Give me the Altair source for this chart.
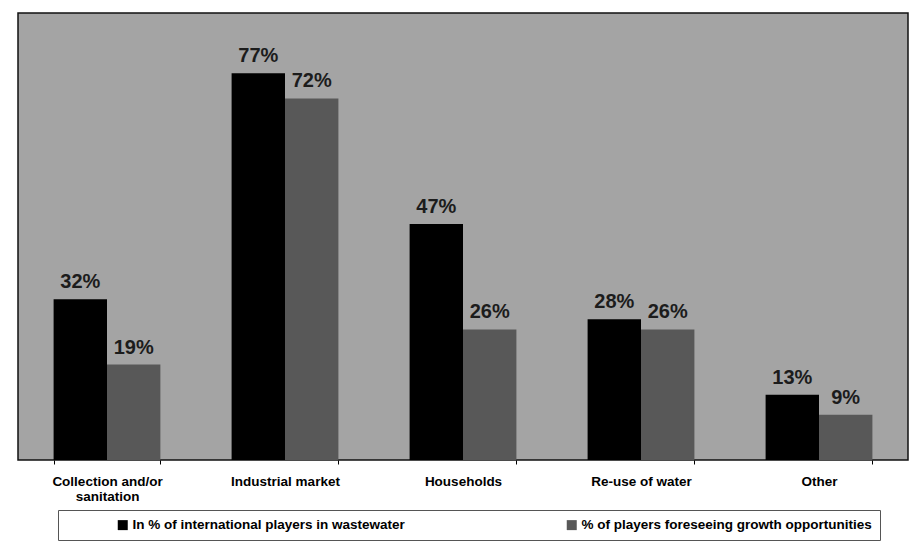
import altair as alt
import pandas as pd

# Segments served, two survey measures per segment
categories = ["Collection and/or|sanitation", "Industrial market", "Households",
              "Re-use of water", "Other"]
series = ["In % of international players in wastewater",
          "% of players foreseeing growth opportunities"]
active_share = [32, 77, 47, 28, 13]
growth_share = [19, 72, 26, 26, 9]

rows = []
for cat, a, g in zip(categories, active_share, growth_share):
    rows.append({"category": cat, "series": series[0], "value": a})
    rows.append({"category": cat, "series": series[1], "value": g})
df = pd.DataFrame(rows)
df["label"] = df["value"].astype(str) + "%"

FONT = "Liberation Sans"

x_enc = alt.X(
    "category:N",
    sort=categories,
    scale=alt.Scale(paddingInner=0.4, paddingOuter=0.2),
    axis=alt.Axis(
        title=None,
        labelAngle=0,
        labelExpr="split(datum.label, '|')",
        labelFont=FONT,
        labelFontSize=13.5,
        labelFontWeight="bold",
        labelColor="#000000",
        labelLineHeight=15,
        labelPadding=10,
        labelBaseline="top",
        domain=False,
        ticks=True,
        tickBand="extent",
        tickSize=4,
        tickColor="#000000",
        grid=False,
    ),
)
xo_enc = alt.XOffset("series:N", sort=series, scale=alt.Scale(paddingInner=0))
y_enc = alt.Y("value:Q", scale=alt.Scale(domain=[0, 89]), axis=None)

bars = alt.Chart(df).mark_bar().encode(
    x=x_enc,
    xOffset=xo_enc,
    y=y_enc,
    color=alt.Color(
        "series:N",
        sort=series,
        scale=alt.Scale(domain=series, range=["#000000", "#585858"]),
        legend=alt.Legend(
            title=None,
            orient="none",
            legendX=40,
            legendY=497,
            direction="horizontal",
            symbolType="square",
            symbolSize=100,
            symbolStrokeWidth=0,
            labelFont=FONT,
            labelFontSize=13.5,
            labelFontWeight="bold",
            labelColor="#000000",
            labelOffset=3,
            columnPadding=110,
            padding=8,
            symbolOffset=50,
            strokeColor="#555555",
            labelLimit=400,
        ),
    ),
)

labels = alt.Chart(df).mark_text(
    baseline="alphabetic",
    dy=-11,
    font=FONT,
    fontSize=20,
    fontWeight="bold",
    color="#1c1c1c",
).encode(
    x=x_enc,
    xOffset=xo_enc,
    y=y_enc,
    text="label:N",
)

chart = (
    alt.layer(bars, labels)
    .properties(
        width=890,
        height=447,
        padding={"left": 18, "top": 13, "right": 2, "bottom": 5},
        background="#ffffff",
    )
    .configure_view(fill="#a4a4a4", stroke="#111111", strokeWidth=1.5)
)

chart.save("out.html", embed_options={"renderer": "svg", "actions": False})
